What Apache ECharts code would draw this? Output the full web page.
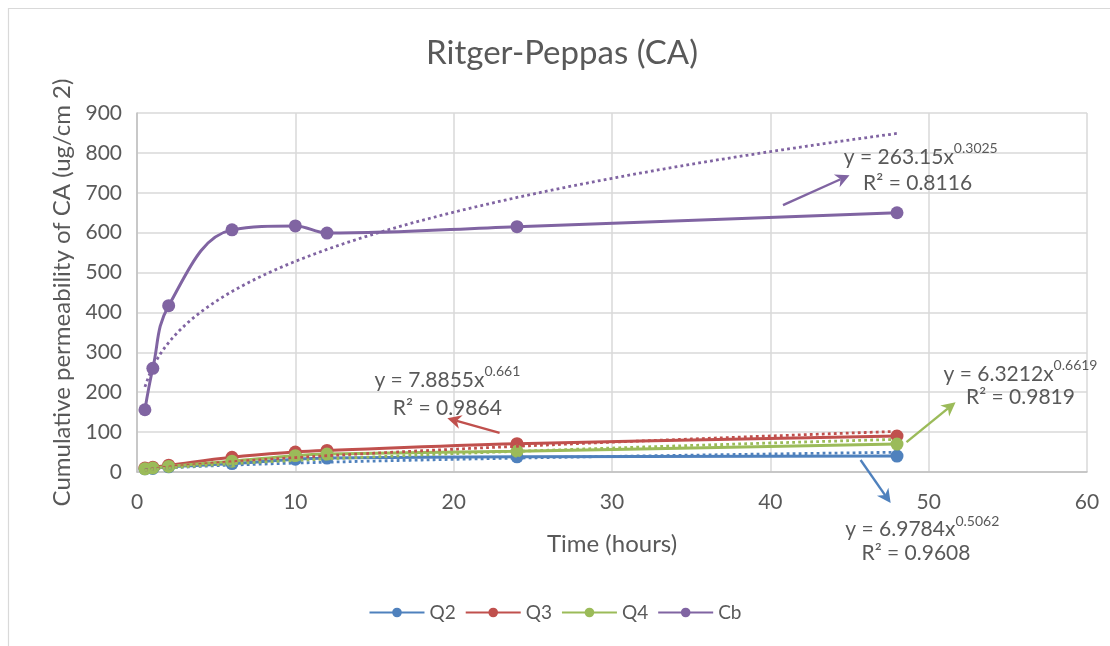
<!DOCTYPE html>
<html>
<head>
<meta charset="utf-8">
<script src="https://cdn.jsdelivr.net/npm/echarts@6/dist/echarts.min.js"></script>
<style>
  html, body { margin: 0; padding: 0; background: #ffffff; }
  #chart { width: 1110px; height: 646px; }
</style>
</head>
<body>
<div id="chart"></div>
<script>
// Sampling times (hours)
const hours = [0.5, 1, 2, 6, 10, 12, 24, 48];

// Cumulative permeability of CA (ug/cm2) per formulation
const q2 = [8, 9, 13, 21, 32, 35, 38, 40];
const q3 = [10, 12, 17, 37, 50, 54, 71, 90];
const q4 = [8, 10, 14, 27, 41, 45, 52, 70];
const cb = [156, 260, 417, 607, 617, 599, 615, 650];

const seriesNames = ['Q2', 'Q3', 'Q4', 'Cb'];

// Power-law (Ritger-Peppas) fits: y = k * x^n
const fitK = ['6.9784', '7.8855', '6.3212', '263.15'];
const fitN = ['0.5062', '0.661', '0.6619', '0.3025'];
const fitR2 = ['0.9608', '0.9864', '0.9819', '0.8116'];

const xTicks = [0, 10, 20, 30, 40, 50, 60];
const yTicks = [0, 100, 200, 300, 400, 500, 600, 700, 800, 900];

const colors = ['#4F81BD', '#C0504D', '#9BBB59', '#8064A2'];
const textColor = '#595959';
const gridColor = '#d9d9d9';
const FONT = 'Lato, "Open Sans", sans-serif';

const measured = [q2, q3, q4, cb];

// Fitted curve points evaluated from the stated coefficients over the measured time span
function fitCurve(i) {
  const k = parseFloat(fitK[i]), n = parseFloat(fitN[i]);
  const pts = [];
  const t0 = hours[0], t1 = hours[hours.length - 1];
  const steps = 190;
  for (let s = 0; s <= steps; s++) {
    const t = t0 + (t1 - t0) * s / steps;
    pts.push([t, k * Math.pow(t, n)]);
  }
  return pts;
}

const series = [];
measured.forEach((vals, i) => {
  series.push({
    name: seriesNames[i],
    type: 'line',
    data: hours.map((h, j) => [h, vals[j]]),
    smooth: 0.4,
    symbol: 'circle',
    symbolSize: 13,
    showSymbol: true,
    lineStyle: { color: colors[i], width: 3 },
    itemStyle: { color: colors[i] },
    z: 3
  });
});
measured.forEach((vals, i) => {
  series.push({
    name: seriesNames[i] + ' fit',
    type: 'line',
    data: fitCurve(i),
    showSymbol: false,
    symbol: 'none',
    lineStyle: { color: colors[i], width: 2.8, type: [2.8, 3.2] },
    silent: true,
    z: 4
  });
});

const chart = echarts.init(document.getElementById('chart'), null, { renderer: 'canvas' });

const option = {
  animation: false,
  backgroundColor: '#ffffff',
  textStyle: { fontFamily: FONT },
  grid: { left: 137, right: 23, top: 113, bottom: 174, containLabel: false },
  legend: {
    data: seriesNames,
    top: 598,
    left: 'center',
    itemWidth: 55,
    itemHeight: 12,
    itemGap: 9,
    textStyle: { color: textColor, fontSize: 19, fontFamily: FONT }
  },
  xAxis: {
    type: 'value',
    min: xTicks[0],
    max: xTicks[xTicks.length - 1],
    interval: xTicks[1] - xTicks[0],
    name: 'Time (hours)',
    nameLocation: 'middle',
    nameGap: 60,
    nameTextStyle: { color: textColor, fontSize: 24, fontFamily: FONT },
    axisLine: { show: true, lineStyle: { color: '#bfbfbf', width: 1.5 } },
    axisTick: { show: false },
    axisLabel: { color: textColor, fontSize: 21, margin: 20, fontFamily: FONT },
    splitLine: { show: true, lineStyle: { color: gridColor, width: 1.5 } }
  },
  yAxis: {
    type: 'value',
    min: yTicks[0],
    max: yTicks[yTicks.length - 1],
    interval: yTicks[1] - yTicks[0],
    name: 'Cumulative permeability of CA (ug/cm 2)',
    nameLocation: 'middle',
    nameGap: 63,
    nameRotate: 90,
    nameTextStyle: { color: textColor, fontSize: 24, fontFamily: FONT },
    axisLine: { show: true, lineStyle: { color: '#bfbfbf', width: 1.5 } },
    axisTick: { show: false },
    axisLabel: { color: textColor, fontSize: 21, margin: 15, fontFamily: FONT },
    splitLine: { show: true, lineStyle: { color: gridColor, width: 1.5 } }
  },
  series: series
};

chart.setOption(option);

// Placement of the fit annotations, in data coordinates (hours, ug/cm2)
const annotPlace = [
  { eq: [49.6, -138], r2: [49.2, -203], tail: [45.7, 30], tip: [47.6, -78] },
  { eq: [19.6, 236], r2: [19.6, 160], tail: [22.9, 98], tip: [19.6, 135] },
  { eq: [55.8, 251], r2: [55.8, 188], tail: [48.6, 75], tip: [51.7, 175] },
  { eq: [49.5, 795], r2: [49.3, 724], tail: [40.8, 669], tip: [45.0, 744] }
];

function px(p) {
  return chart.convertToPixel({ gridIndex: 0 }, p);
}

function arrow(a, b, color) {
  const dx = b[0] - a[0], dy = b[1] - a[1];
  const len = Math.sqrt(dx * dx + dy * dy);
  const ux = dx / len, uy = dy / len;
  const headL = 14, headW = 7;
  const base = [b[0] - ux * headL, b[1] - uy * headL];
  const inner = [b[0] - ux * headL * 0.7, b[1] - uy * headL * 0.7];
  return [
    {
      type: 'line',
      shape: { x1: a[0], y1: a[1], x2: inner[0], y2: inner[1] },
      style: { stroke: color, lineWidth: 2.4 },
      z: 10
    },
    {
      type: 'polygon',
      shape: {
        points: [
          b,
          [base[0] - uy * headW, base[1] + ux * headW],
          inner,
          [base[0] + uy * headW, base[1] - ux * headW]
        ]
      },
      style: { fill: color },
      z: 10
    }
  ];
}

const graphics = [
  // Chart frame
  {
    type: 'rect',
    shape: { x: 8.5, y: 8.5, width: 1200, height: 700 },
    style: { fill: 'none', stroke: '#d9d9d9', lineWidth: 1.2 },
    z: 0,
    silent: true
  },
  {
    type: 'text',
    x: 562,
    y: 53,
    style: {
      text: 'Ritger-Peppas (CA)',
      fill: textColor,
      font: '33px ' + FONT,
      align: 'center',
      verticalAlign: 'middle'
    },
    z: 10
  }
];

annotPlace.forEach((a, i) => {
  const e = px(a.eq), r = px(a.r2);
  graphics.push({
    type: 'text',
    x: e[0],
    y: e[1],
    style: {
      text: '{b|y = ' + fitK[i] + 'x}{s|' + fitN[i] + '}',
      align: 'center',
      verticalAlign: 'middle',
      rich: {
        b: { fontSize: 21, fontFamily: FONT, fill: textColor, lineHeight: 26, verticalAlign: 'bottom' },
        s: { fontSize: 14, fontFamily: FONT, fill: textColor, lineHeight: 26, verticalAlign: 'top' }
      }
    },
    z: 10
  });
  graphics.push({
    type: 'text',
    x: r[0],
    y: r[1],
    style: {
      text: 'R\u00B2 = ' + fitR2[i],
      fill: textColor,
      font: '21px ' + FONT,
      align: 'center',
      verticalAlign: 'middle'
    },
    z: 10
  });
  arrow(px(a.tail), px(a.tip), colors[i]).forEach(g => graphics.push(g));
});

chart.setOption({ graphic: graphics });
</script>
</body>
</html>
